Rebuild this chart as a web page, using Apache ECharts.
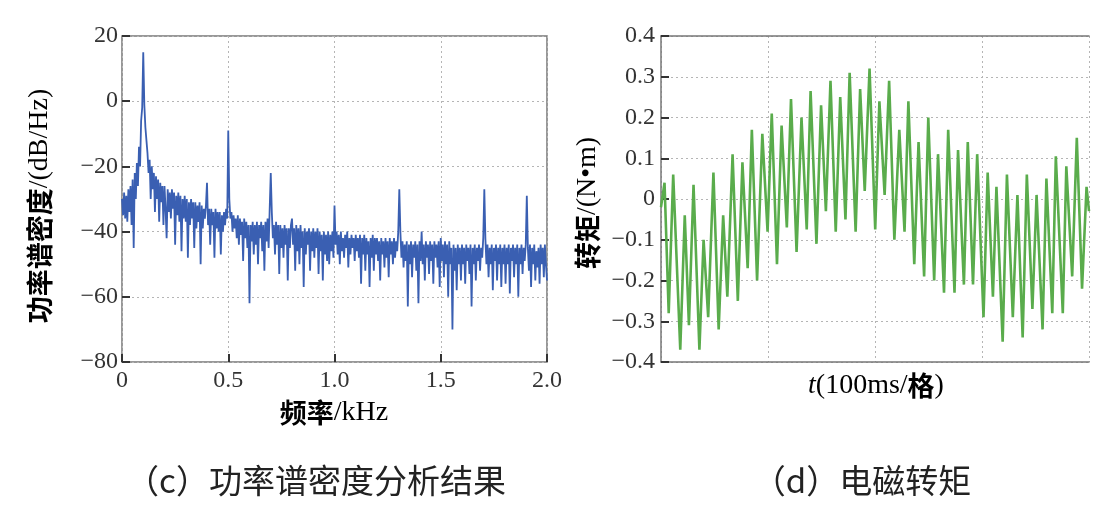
<!DOCTYPE html>
<html><head><meta charset="utf-8">
<script src="https://cdn.jsdelivr.net/npm/echarts@6/dist/echarts.min.js"></script>
<style>html,body{margin:0;padding:0;background:#fff}#c{width:1107px;height:518px}</style>
</head><body><div id="c"></div>
<script>
// ---- (c) power spectral density, 5 Hz spacing from 0 to 2.0 kHz ----
const psdStepKHz = 0.005;
const psdValues = [
-30,-35,-28,-36,-29,-37,-27,-34,-26,-38,-24,-45,-22,-30,-19,-26,-14,-20,-6,-2,
15,-1,-8,-12,-16,-22,-18,-30,-20,-27,-22,-34,-23,-30,-24,-37,-25,-31,-26,-38,
-26,-33,-42,-27,-34,-28,-36,-27,-33,-28,-44,-29,-35,-28,-37,-29,-46,-30,-36,-29,
-37,-30,-48,-31,-38,-30,-36,-31,-45,-31,-39,-32,-37,-31,-50,-32,-39,-33,-36,-32,
-25,-38,-33,-44,-33,-38,-34,-48,-33,-39,-34,-40,-34,-47,-35,-40,-34,-38,-33,-36,
-9,-30,-36,-34,-40,-35,-39,-36,-42,-35,-44,-36,-41,-37,-49,-36,-42,-37,-45,-38,
-62,-38,-43,-37,-47,-38,-44,-37,-50,-38,-42,-37,-46,-38,-52,-37,-43,-36,-45,-33,
-22,-34,-42,-38,-47,-37,-44,-38,-53,-38,-45,-39,-48,-38,-44,-39,-55,-39,-45,-38,
-36,-44,-39,-52,-38,-46,-39,-50,-38,-45,-40,-57,-39,-47,-40,-44,-39,-52,-40,-46,
-39,-48,-40,-45,-39,-53,-40,-46,-41,-55,-40,-47,-41,-49,-40,-50,-41,-46,-40,-48,
-32,-44,-40,-47,-41,-50,-40,-46,-42,-48,-41,-45,-40,-51,-42,-47,-41,-45,-42,-49,
-41,-46,-42,-48,-41,-56,-42,-47,-41,-52,-42,-47,-43,-57,-42,-48,-41,-52,-42,-47,
-42,-49,-43,-55,-42,-47,-43,-51,-42,-48,-43,-54,-42,-47,-43,-50,-42,-48,-43,-46,
-40,-27,-40,-48,-43,-51,-44,-49,-43,-63,-44,-50,-43,-54,-44,-48,-43,-52,-44,-62,
-43,-49,-40,-50,-44,-55,-43,-48,-44,-53,-43,-49,-44,-56,-43,-48,-44,-51,-43,-57,
-42,-49,-44,-54,-43,-50,-44,-60,-43,-50,-45,-70,-44,-52,-45,-58,-44,-50,-45,-55,
-44,-50,-45,-56,-44,-49,-45,-53,-44,-63,-45,-50,-44,-55,-45,-49,-44,-52,-45,-48,
-42,-27,-42,-50,-44,-54,-45,-50,-44,-58,-45,-49,-44,-55,-45,-50,-44,-57,-45,-50,
-44,-56,-45,-50,-44,-59,-45,-49,-44,-54,-45,-50,-44,-60,-45,-50,-44,-53,-45,-49,
-44,-29,-45,-52,-44,-57,-45,-50,-44,-55,-46,-51,-45,-56,-44,-50,-45,-54,-44,-50,
-55
];
const psdYTicks = [20, 0, -20, -40, -60, -80];
const psdXTicks = [0, 0.5, 1.0, 1.5, 2.0];

// ---- (d) electromagnetic torque: turning points (t in ms, torque in N·m) ----
const torqueT = [0,3.3,7.2,11.4,18.0,22.2,26.1,30.4,35.9,39.8,44.1,49.0,53.9,58.1,62.0,66.9,71.8,76.1,81.0,84.9,89.8,94.7,99.6,103.5,108.4,112.7,117.6,121.5,126.7,131.3,136.2,139.8,145.3,149.6,154.1,158.4,163.3,167.5,172.4,176.3,181.9,186.1,190.4,194.9,200.2,204.1,209.0,213.2,218.1,222.7,227.6,231.2,236.7,240.7,245.9,249.8,255.3,258.9,264.5,268.4,274.3,277.6,283.1,286.7,291.6,295.5,301.4,305.3,310.2,313.5,319.3,323.3,328.8,333.1,338.0,341.9,347.1,351.0,356.6,360.2,365.7,369.0,375.5,378.8,384.3,388.6,393.5,397.7,400];
const torqueV = [-0.02,0.04,-0.28,0.06,-0.37,-0.04,-0.31,0.035,-0.37,-0.10,-0.29,0.065,-0.32,-0.04,-0.24,0.11,-0.25,0.09,-0.17,0.17,-0.20,0.16,-0.08,0.21,-0.16,0.18,-0.07,0.245,-0.13,0.20,-0.075,0.265,-0.11,0.23,-0.03,0.29,-0.08,0.25,-0.05,0.31,-0.08,0.27,0.02,0.32,-0.075,0.24,0.01,0.29,-0.10,0.17,-0.08,0.24,-0.16,0.14,-0.19,0.20,-0.20,0.11,-0.23,0.17,-0.23,0.12,-0.21,0.14,-0.21,0.11,-0.29,0.065,-0.24,0.03,-0.35,0.06,-0.29,0.01,-0.34,0.06,-0.27,0.01,-0.32,0.05,-0.28,0.105,-0.28,0.08,-0.19,0.15,-0.22,0.03,-0.03];
const torqueYTicks = [0.4,0.3,0.2,0.1,0,-0.1,-0.2,-0.3,-0.4];
const timeGridMs = [0,100,200,300,400];

const captions = ['（c）功率谱密度分析结果', '（d）电磁转矩'];

const psdData = psdValues.map((v, i) => [+(i * psdStepKHz).toFixed(3), v]);
const torqueData = torqueT.map((t, i) => [t, torqueV[i]]);

const serif = '"Liberation Serif","DejaVu Serif",serif';
const cjk = '"Noto Sans CJK SC","Liberation Serif",serif';
const minus = v => (v < 0 ? '\u2212' + String(Math.abs(v)) : String(v));
const gridLine = {show: true, lineStyle: {color: '#b5b5b5', type: [2, 3], width: 1}};
const axLabel = {fontFamily: serif, fontSize: 24, color: '#333'};
const tick = {show: true, inside: true, length: 8, lineStyle: {color: '#333', width: 2}};
const nameRich = {
  c: {fontFamily: cjk, fontWeight: 'bold', fontSize: 27, color: '#333'},
  s: {fontFamily: serif, fontSize: 28, color: '#333'},
  i: {fontFamily: serif, fontStyle: 'italic', fontSize: 28, color: '#333'}
};

const chart = echarts.init(document.getElementById('c'), null, {renderer: 'canvas'});
chart.setOption({
  animation: false,
  backgroundColor: '#fff',
  grid: [
    {left: 122, right: 560, top: 36, bottom: 156, show: true, borderColor: '#777', borderWidth: 1.5, backgroundColor: 'transparent'},
    {left: 661, right: 18, top: 36, bottom: 156}
  ],
  xAxis: [
    {gridIndex: 0, type: 'value', min: psdXTicks[0], max: psdXTicks[psdXTicks.length - 1], interval: 0.5,
      axisLine: {show: false, onZero: false}, axisTick: tick, splitLine: gridLine,
      axisLabel: Object.assign({}, axLabel, {margin: 7, formatter: v => (v === 0 ? '0' : v.toFixed(1))})},
    {gridIndex: 1, type: 'value', min: timeGridMs[0], max: timeGridMs[timeGridMs.length - 1], interval: 100,
      axisLine: {show: true, onZero: false, lineStyle: {color: '#777', width: 1.5}}, axisTick: {show: false},
      splitLine: gridLine, axisLabel: {show: false}},
    {gridIndex: 1, type: 'value', position: 'top', min: 0, max: 400,
      axisLine: {show: true, onZero: false, lineStyle: {color: '#777', width: 1.5}}, axisTick: {show: false},
      splitLine: {show: false}, axisLabel: {show: false}}
  ],
  yAxis: [
    {gridIndex: 0, type: 'value', min: -80, max: 20, interval: 20,
      axisLine: {show: false, onZero: false}, axisTick: tick, splitLine: gridLine,
      axisLabel: Object.assign({}, axLabel, {margin: 4, formatter: minus})},
    {gridIndex: 1, type: 'value', min: -0.4, max: 0.4, interval: 0.1,
      axisLine: {show: true, onZero: false, lineStyle: {color: '#777', width: 1.5}}, axisTick: tick, splitLine: gridLine,
      axisLabel: Object.assign({}, axLabel, {margin: 6, formatter: v => minus(+v.toFixed(1))})}
  ],
  series: [
    {type: 'line', xAxisIndex: 0, yAxisIndex: 0, data: psdData, showSymbol: false,
      lineStyle: {color: '#3a5fb2', width: 1.8}},
    {type: 'line', xAxisIndex: 1, yAxisIndex: 1, data: torqueData, showSymbol: false,
      lineStyle: {color: '#5aac4c', width: 2.6}}
  ],
  graphic: [
    {type: 'text', x: 40, y: 206, rotation: Math.PI / 2,
      style: {text: '{c|功率谱密度}{s|/(dB/Hz)}', rich: nameRich, align: 'center', verticalAlign: 'middle'}},
    {type: 'text', x: 334, y: 413,
      style: {text: '{c|频率}{s|/kHz}', rich: nameRich, align: 'center', verticalAlign: 'middle'}},
    {type: 'text', x: 588, y: 203, rotation: Math.PI / 2,
      style: {text: '{c|转矩}{s|/(N•m)}', rich: nameRich, align: 'center', verticalAlign: 'middle'}},
    {type: 'text', x: 876, y: 386,
      style: {text: '{i|t}{s|(100ms/}{c|格}{s|)}', rich: nameRich, align: 'center', verticalAlign: 'middle'}},
    {type: 'text', x: 316, y: 480,
      style: {text: captions[0], font: '33px ' + cjk, fill: '#222', align: 'center', verticalAlign: 'middle'}},
    {type: 'text', x: 862, y: 480,
      style: {text: captions[1], font: '33px ' + cjk, fill: '#222', align: 'center', verticalAlign: 'middle'}}
  ]
});
</script></body></html>
